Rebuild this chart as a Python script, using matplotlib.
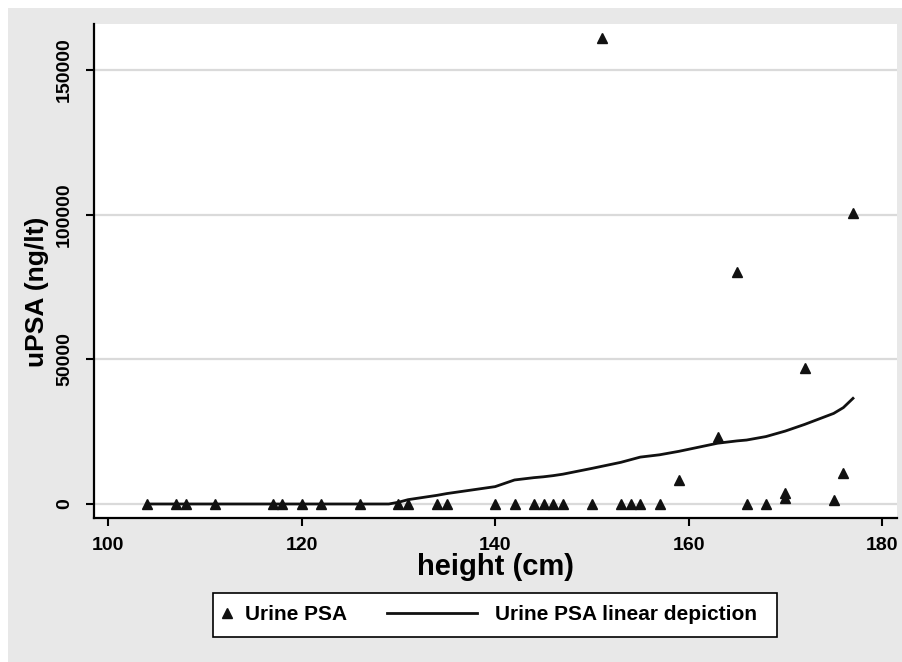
import matplotlib
matplotlib.use("Agg")
import matplotlib.pyplot as plt
from matplotlib.patches import Rectangle

plt.rcParams['font.family'] = ['Liberation Sans', 'DejaVu Sans']
plt.rcParams['font.weight'] = 'bold'

# urine PSA points (height in cm, uPSA in ng/lt)
height = [104, 107, 108, 111, 117, 118, 120, 122, 126, 130, 131, 134, 135,
          140, 142, 144, 145, 146, 147, 150, 151, 153, 154, 155, 157, 159,
          163, 165, 166, 168, 170, 170, 172, 175, 176, 177]
upsa = [150, 150, 150, 150, 150, 150, 150, 150, 150, 150, 150, 150, 150,
        150, 150, 150, 150, 150, 150, 150, 160900, 150, 150, 150, 150, 8300,
        23200, 80100, 150, 150, 3700, 2000, 47000, 1400, 10600, 100400]

# linear depiction curve
fit_x = [104, 107, 108, 111, 117, 118, 120, 122, 126, 129, 130, 131, 134,
         135, 140, 142, 144, 145, 146, 147, 150, 153, 154, 155, 157, 159,
         163, 165, 166, 168, 170, 172, 175, 176, 177]
fit_y = [0, 0, 0, 0, 0, 0, 0, 0, 0, 0, 600, 1500, 3000,
         3600, 6000, 8300, 9100, 9400, 9800, 10300, 12300, 14400, 15300, 16200, 17000, 18200,
         21000, 21800, 22100, 23300, 25200, 27500, 31300, 33300, 36500]

xticks = [100, 120, 140, 160, 180]
yticks = [0, 50000, 100000, 150000]

fig = plt.figure(figsize=(9.03, 6.62), dpi=100, facecolor='white')
fig.patches.append(Rectangle((8 / 903, 0), 1, 1 - 8 / 662, transform=fig.transFigure,
                             facecolor='#e8e8e8', edgecolor='none', zorder=-10))

ax = fig.add_axes([94 / 903, 1 - 518 / 662, 803 / 903, 494 / 662])
ax.set_facecolor('white')

for y in yticks:
    ax.axhline(y, color='#dadada', lw=1.6, zorder=0)

pts, = ax.plot(height, upsa, linestyle='none', marker='^', ms=7.5,
               color='#111111', label='Urine PSA', zorder=3)
fit, = ax.plot(fit_x, fit_y, color='#111111', lw=2.0,
               label='Urine PSA linear depiction', zorder=2)

ax.set_xlim(98.52, 181.55)
ax.set_ylim(-4840, 165860)
ax.set_xticks(xticks)
ax.set_yticks(yticks)
ax.set_yticklabels([str(v) for v in yticks], rotation=90, va='center')
ax.tick_params(axis='both', labelsize=14, length=6, width=1.5, direction='out')
ax.tick_params(axis='x', pad=8)
ax.tick_params(axis='y', pad=9)

for s in ['top', 'right']:
    ax.spines[s].set_visible(False)
for s in ['left', 'bottom']:
    ax.spines[s].set_linewidth(1.6)

ax.set_xlabel('height (cm)', fontsize=21, fontweight='bold')
ax.xaxis.set_label_coords(0.5, -0.099)
ax.xaxis.label.set_verticalalignment('center')
ax.set_ylabel('uPSA (ng/lt)', fontsize=19, fontweight='bold')
ax.yaxis.set_label_coords(-0.071, 0.4575)
ax.yaxis.label.set_verticalalignment('center')

# legend frame and two entries
fig.patches.append(Rectangle((213 / 903, 1 - 637 / 662), 564 / 903, 44 / 662,
                             transform=fig.transFigure, facecolor='white',
                             edgecolor='black', lw=1.2, zorder=5))
leg1 = fig.legend(handles=[pts], loc='center left', frameon=False,
                  bbox_to_anchor=(216.6 / 903, 1 - 615 / 662), borderpad=0,
                  borderaxespad=0, handlelength=1.0, handletextpad=0.37,
                  prop={'size': 15, 'weight': 'bold'})
leg2 = fig.legend(handles=[fit], loc='center left', frameon=False,
                  bbox_to_anchor=(387 / 903, 1 - 615 / 662), borderpad=0,
                  borderaxespad=0, handlelength=4.32, handletextpad=0.86,
                  prop={'size': 15, 'weight': 'bold'})
leg1.set_zorder(6)
leg2.set_zorder(6)

fig.savefig('out.png', dpi=100, facecolor=fig.get_facecolor())
